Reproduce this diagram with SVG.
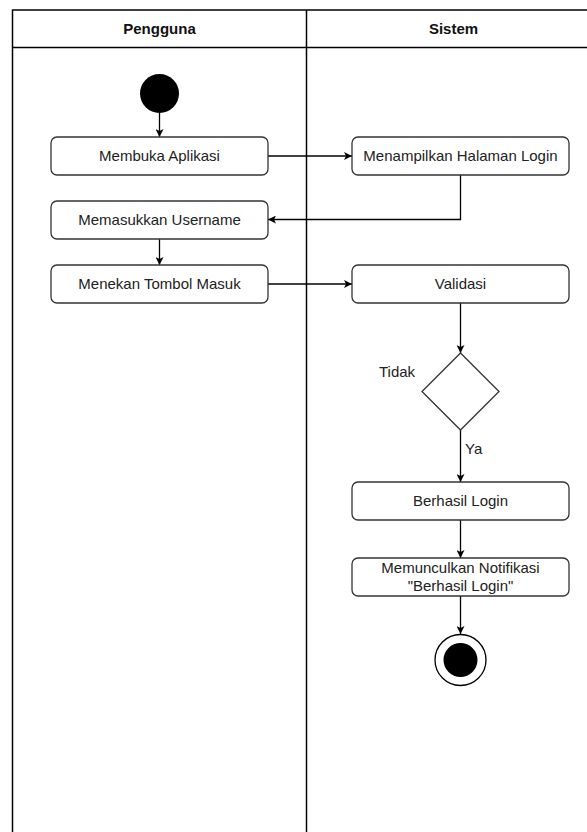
<svg xmlns="http://www.w3.org/2000/svg" width="587" height="832" viewBox="0 0 587 832">
  <style>
    .lane { fill: none; stroke: #000; stroke-width: 1.5; }
    .head { font-family: "Liberation Sans", Arial, sans-serif; font-size: 15px; font-weight: bold; fill: #111; text-anchor: middle; }
    .act { fill: #fff; stroke: #333; stroke-width: 1.3; }
    .lbl { font-family: "Liberation Sans", Arial, sans-serif; font-size: 15px; fill: #222; text-anchor: middle; }
    .note { font-family: "Liberation Sans", Arial, sans-serif; font-size: 15px; fill: #222; }
    .edge { fill: none; stroke: #000; stroke-width: 1.3; marker-end: url(#arrow); }
  </style>
  <defs>
    <marker id="arrow" viewBox="0 0 10 10" refX="10" refY="5" markerWidth="8" markerHeight="8" markerUnits="userSpaceOnUse" orient="auto">
      <path d="M0,0 L10,5 L0,10 L2.5,5 Z" fill="#000"/>
    </marker>
  </defs>

  <rect width="587" height="832" fill="#fff"/>

  <!-- swimlanes -->
  <g id="lanes">
    <path class="lane" d="M12.5,840 V10 H600" stroke-width="2"/>
    <path class="lane" d="M12.5,47.5 H600" stroke="#555" stroke-width="2"/>
    <path class="lane" d="M306.5,10 V840"/>
    <text class="head" x="159.5" y="34">Pengguna</text>
    <text class="head" x="453.5" y="34">Sistem</text>
  </g>

  <!-- connectors -->
  <g id="connectors">
    <path class="edge" d="M159.5,113 V137"/>
    <path class="edge" d="M268,156 H352"/>
    <path class="edge" d="M460.5,175 V219.5 H268"/>
    <path class="edge" d="M159.5,239 V265"/>
    <path class="edge" d="M268,284 H352"/>
    <path class="edge" d="M460.5,303 V353"/>
    <path class="edge" d="M460.5,430 V482"/>
    <path class="edge" d="M460.5,520 V558"/>
    <path class="edge" d="M460.5,596 V634"/>
    <text class="note" x="379" y="377">Tidak</text>
    <text class="note" x="465" y="454">Ya</text>
  </g>

  <g id="start">
    <circle cx="159.5" cy="93.5" r="19.5" fill="#000"/>
  </g>

  <g id="membuka-aplikasi">
    <rect class="act" x="51" y="137" width="217" height="38" rx="6"/>
    <text class="lbl" x="159.5" y="161">Membuka Aplikasi</text>
  </g>

  <g id="menampilkan-halaman-login">
    <rect class="act" x="352" y="137" width="217" height="38" rx="6"/>
    <text class="lbl" x="460.5" y="161">Menampilkan Halaman Login</text>
  </g>

  <g id="memasukkan-username">
    <rect class="act" x="51" y="201" width="217" height="38" rx="6"/>
    <text class="lbl" x="159.5" y="225">Memasukkan Username</text>
  </g>

  <g id="menekan-tombol-masuk">
    <rect class="act" x="51" y="265" width="217" height="38" rx="6"/>
    <text class="lbl" x="159.5" y="289">Menekan Tombol Masuk</text>
  </g>

  <g id="validasi">
    <rect class="act" x="352" y="265" width="217" height="38" rx="6"/>
    <text class="lbl" x="460.5" y="289">Validasi</text>
  </g>

  <g id="keputusan">
    <polygon class="act" points="460.5,353 499,391.5 460.5,430 422,391.5"/>
  </g>

  <g id="berhasil-login">
    <rect class="act" x="352" y="482" width="217" height="38" rx="6"/>
    <text class="lbl" x="460.5" y="506">Berhasil Login</text>
  </g>

  <g id="notifikasi">
    <rect class="act" x="352" y="558" width="217" height="38" rx="6"/>
    <text class="lbl" x="460.5" y="573">Memunculkan Notifikasi</text>
    <text class="lbl" x="460.5" y="591">"Berhasil Login"</text>
  </g>

  <g id="end">
    <circle cx="460.5" cy="660" r="25.5" fill="#fff" stroke="#000" stroke-width="1.3"/>
    <circle cx="460.5" cy="660" r="17" fill="#000"/>
  </g>
</svg>
